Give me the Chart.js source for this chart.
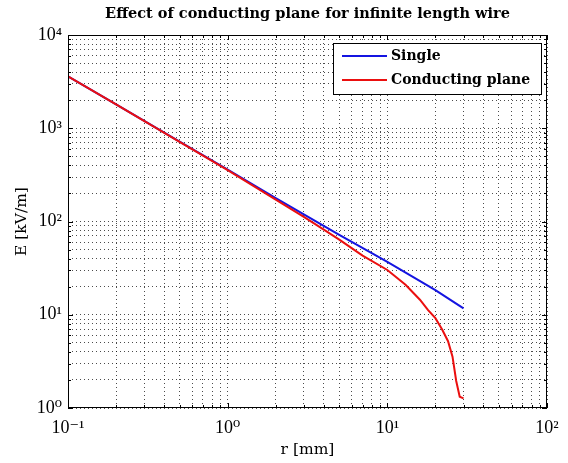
<!DOCTYPE html>
<html lang="en">
<head>
  <meta charset="UTF-8">
  <title>Effect of conducting plane for infinite length wire</title>
  <script src="https://cdn.jsdelivr.net/npm/chart.js"></script>
  <style>
    html, body { margin: 0; padding: 0; background: #fff; }
    #wrap { width: 568px; height: 463px; }
  </style>
</head>
<body>
  <div id="wrap">
    <canvas id="myChart" width="568" height="463"></canvas>
  </div>

  <script>
    // data
    var rSingle = [0.1, 0.2, 0.5, 1, 2, 5, 10, 20, 30];
    var eSingle = [3600, 1800, 720, 360, 178, 72, 37, 18.4, 11.7];

    var rPlane = [0.1, 0.2, 0.5, 1, 2, 3, 4, 5, 7, 10, 13, 16, 18, 20, 22, 24, 25.6, 27, 28.4, 30];
    var ePlane = [3600, 1800, 715, 355, 172, 112, 82, 64, 43, 30.2, 21, 14.5, 11.2, 9.2, 7.0, 5.2, 3.55, 1.95, 1.32, 1.27];

    var xMajor = [0.1, 1, 10, 100];
    var yMajor = [1, 10, 100, 1000, 10000];
    var xLabels = ['10\u207B\u00B9', '10\u2070', '10\u00B9', '10\u00B2'];
    var yLabels = ['10\u2070', '10\u00B9', '10\u00B2', '10\u00B3', '10\u2074'];

    var serif = '"DejaVu Serif", "Liberation Serif", serif';
    var tickFont = '"Liberation Serif", "DejaVu Serif", serif';

    function toPoints(xs, ys) {
      return xs.map(function (x, i) { return { x: x, y: ys[i] }; });
    }

    // 1..9 x each decade, for the grid
    function decadeTicks(majors) {
      var out = [];
      for (var i = 0; i < majors.length - 1; i++) {
        for (var k = 1; k < 10; k++) out.push({ value: +(majors[i] * k).toPrecision(6) });
      }
      out.push({ value: majors[majors.length - 1] });
      return out;
    }

    function majorLabel(majors, labels) {
      return function (value) {
        for (var i = 0; i < majors.length; i++) {
          if (Math.abs(value - majors[i]) < majors[i] * 1e-6) return labels[i];
        }
        return '';
      };
    }

    // box, inward ticks and legend like the matlab figure
    var frame = {
      id: 'frame',
      afterDraw: function (chart) {
        var c = chart.ctx, a = chart.chartArea;
        var sx = chart.scales.x, sy = chart.scales.y;
        c.save();
        c.strokeStyle = '#000';
        c.lineWidth = 1;
        c.setLineDash([]);
        c.strokeRect(a.left + 0.5, a.top + 0.5, a.right - a.left - 1, a.bottom - a.top - 1);

        c.beginPath();
        sx.ticks.forEach(function (t) {
          var len = xMajor.indexOf(t.value) >= 0 ? 5 : 3;
          var px = Math.round(sx.getPixelForValue(t.value)) + 0.5;
          c.moveTo(px, a.bottom); c.lineTo(px, a.bottom - len);
          c.moveTo(px, a.top); c.lineTo(px, a.top + len);
        });
        sy.ticks.forEach(function (t) {
          var len = yMajor.indexOf(t.value) >= 0 ? 5 : 3;
          var py = Math.round(sy.getPixelForValue(t.value)) + 0.5;
          c.moveTo(a.left, py); c.lineTo(a.left + len, py);
          c.moveTo(a.right, py); c.lineTo(a.right - len, py);
        });
        c.stroke();

        // legend
        var lx = 333, ly = 43, lw = 208, lh = 51;
        c.fillStyle = '#fff';
        c.fillRect(lx, ly, lw, lh);
        c.strokeRect(lx + 0.5, ly + 0.5, lw, lh);
        c.font = 'bold 14px ' + serif;
        c.textBaseline = 'middle';
        chart.data.datasets.forEach(function (ds, i) {
          var yy = ly + 13 + i * 24;
          c.strokeStyle = ds.borderColor;
          c.lineWidth = 2;
          c.beginPath();
          c.moveTo(lx + 9, yy); c.lineTo(lx + 54, yy);
          c.stroke();
          c.fillStyle = '#000';
          c.fillText(ds.label, lx + 58, yy);
        });
        c.restore();
      }
    };

    var gridOpts = { color: 'rgba(0,0,0,0.7)', drawTicks: false };
    var borderOpts = { display: false, dash: [1, 3] };

    var ctx = document.getElementById('myChart').getContext('2d');
    var myChart = new Chart(ctx, {
      type: 'line',
      data: {
        datasets: [{
          label: 'Single',
          data: toPoints(rSingle, eSingle),
          borderColor: 'rgb(20,20,225)',
          borderWidth: 2,
          pointRadius: 0,
          order: 2
        }, {
          label: 'Conducting plane',
          data: toPoints(rPlane, ePlane),
          borderColor: 'rgb(235,15,15)',
          borderWidth: 2,
          pointRadius: 0,
          order: 1
        }]
      },
      options: {
        responsive: false,
        animation: false,
        layout: { padding: { top: 0, right: 21, bottom: 0, left: 0 } },
        plugins: {
          legend: { display: false },
          tooltip: { enabled: false },
          title: {
            display: true,
            fullSize: false,
            text: 'Effect of conducting plane for infinite length wire',
            color: '#000',
            font: { family: serif, size: 14.5, weight: 'bold' },
            padding: { top: 6, bottom: 11.6 }
          }
        },
        scales: {
          x: {
            type: 'logarithmic',
            min: 0.1,
            max: 100,
            afterBuildTicks: function (s) { s.ticks = decadeTicks(xMajor); },
            afterFit: function (s) { s.height = 55; },
            border: borderOpts,
            grid: gridOpts,
            ticks: {
              autoSkip: false,
              maxRotation: 0,
              padding: 9,
              color: '#000',
              font: { family: tickFont, size: 18 },
              callback: majorLabel(xMajor, xLabels)
            },
            title: {
              display: true,
              text: 'r [mm]',
              color: '#000',
              font: { family: serif, size: 15.5 },
              padding: { top: 0, bottom: 4 }
            }
          },
          y: {
            type: 'logarithmic',
            min: 1,
            max: 10000,
            afterBuildTicks: function (s) { s.ticks = decadeTicks(yMajor); },
            afterFit: function (s) { s.width = 68; },
            border: borderOpts,
            grid: gridOpts,
            ticks: {
              autoSkip: false,
              padding: 6,
              color: '#000',
              font: { family: tickFont, size: 18 },
              callback: majorLabel(yMajor, yLabels)
            },
            title: {
              display: true,
              text: 'E [kV/m]',
              color: '#000',
              font: { family: serif, size: 15.5 },
              padding: { top: 13, bottom: 0 }
            }
          }
        }
      },
      plugins: [frame]
    });
  </script>
</body>
</html>
